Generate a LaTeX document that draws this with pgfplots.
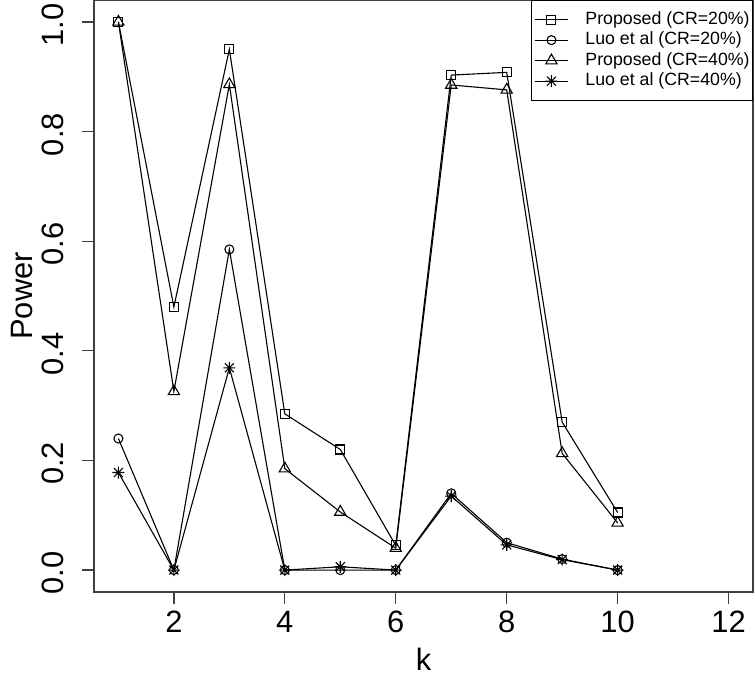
\documentclass[border=0pt]{standalone}
\usepackage{fontspec}
\setmainfont{Liberation Sans}
\usepackage{pgfplots}
\pgfplotsset{compat=1.18}
\pgfdeclareplotmark{rstar}{%
 \pgfpathmoveto{\pgfqpoint{-\pgfplotmarksize}{0pt}}\pgfpathlineto{\pgfqpoint{\pgfplotmarksize}{0pt}}%
 \pgfpathmoveto{\pgfqpoint{0pt}{-\pgfplotmarksize}}\pgfpathlineto{\pgfqpoint{0pt}{\pgfplotmarksize}}%
 \pgfpathmoveto{\pgfqpoint{-.75\pgfplotmarksize}{-.75\pgfplotmarksize}}\pgfpathlineto{\pgfqpoint{.75\pgfplotmarksize}{.75\pgfplotmarksize}}%
 \pgfpathmoveto{\pgfqpoint{-.75\pgfplotmarksize}{.75\pgfplotmarksize}}\pgfpathlineto{\pgfqpoint{.75\pgfplotmarksize}{-.75\pgfplotmarksize}}%
 \pgfusepathqstroke}
\begin{document}
\begin{tikzpicture}
\begin{axis}[
 at={(0,0)}, anchor=south west,
 scale only axis, width=659bp, height=592bp,
 xmin=0.56, xmax=12.44, ymin=-0.04, ymax=1.04,
 xtick={2,4,6,8,10,12},
 ytick={0,0.2,0.4,0.6,0.8,1.0},
 yticklabels={0.0,0.2,0.4,0.6,0.8,1.0},
 /pgf/number format/assume math mode=true,
 tick pos=left, tick align=outside,
 major tick length=12bp,
 every tick/.style={black!75, line width=1.3bp},
 axis line style={black!75, line width=1.5bp},
 ticklabel style={font=\fontsize{31}{36}\selectfont},
 xticklabel style={anchor=north, inner sep=0pt, yshift=-7bp},
 yticklabel style={xshift=-18bp, yshift=-3bp, rotate=90, anchor=south, inner sep=0pt},
 xlabel={k}, ylabel={Power},
 label style={font=\fontsize{31}{36}\selectfont},
 xlabel style={at={(axis description cs:0.5,-0.114)}, anchor=center, inner sep=0pt},
 ylabel style={at={(axis description cs:-0.109,0.5)}, anchor=center},
 legend style={at={(1,1)}, anchor=north east, draw=black, line width=0.8bp,
   font=\fontsize{17.8}{21}\selectfont, inner xsep=3bp, inner ysep=10.5bp,
   row sep=3bp,
   nodes={inner xsep=0pt, inner ysep=0pt, text height=13.5bp, text depth=4bp},
   /tikz/every odd column/.append style={column sep=17bp}},
 legend cell align=left,
 legend image code/.code={\draw[mark repeat=2,mark phase=2,line width=1.1bp] plot coordinates {(0bp,0bp) (16.5bp,0bp) (33bp,0bp)};},
 every axis plot/.append style={black, line width=1.1bp, mark options={solid, line width=1.1bp}},
]
\addplot[mark=square, mark size=4.5bp] coordinates {
(1,1.0) (2,0.48) (3,0.95) (4,0.285) (5,0.22) (6,0.045) (7,0.903) (8,0.908) (9,0.27) (10,0.105)};
\addlegendentry{Proposed (CR=20\%)}
\addplot[mark=o, mark size=4.5bp] coordinates {
(1,0.24) (2,0.0) (3,0.585) (4,0.0) (5,0.0) (6,0.0) (7,0.14) (8,0.05) (9,0.02) (10,0.0)};
\addlegendentry{Luo et al (CR=20\%)}
\addplot[mark=triangle, mark size=6.5bp] coordinates {
(1,1.0) (2,0.326) (3,0.886) (4,0.185) (5,0.106) (6,0.04) (7,0.885) (8,0.876) (9,0.213) (10,0.086)};
\addlegendentry{Proposed (CR=40\%)}
\addplot[mark=rstar, mark size=6bp] coordinates {
(1,0.178) (2,0.0) (3,0.369) (4,0.0) (5,0.006) (6,0.0) (7,0.135) (8,0.046) (9,0.019) (10,0.0)};
\addlegendentry{Luo et al (CR=40\%)}
\end{axis}
\pgfresetboundingbox
\useasboundingbox (-94bp,-87bp) rectangle (661bp,592bp);
\end{tikzpicture}
\end{document}
